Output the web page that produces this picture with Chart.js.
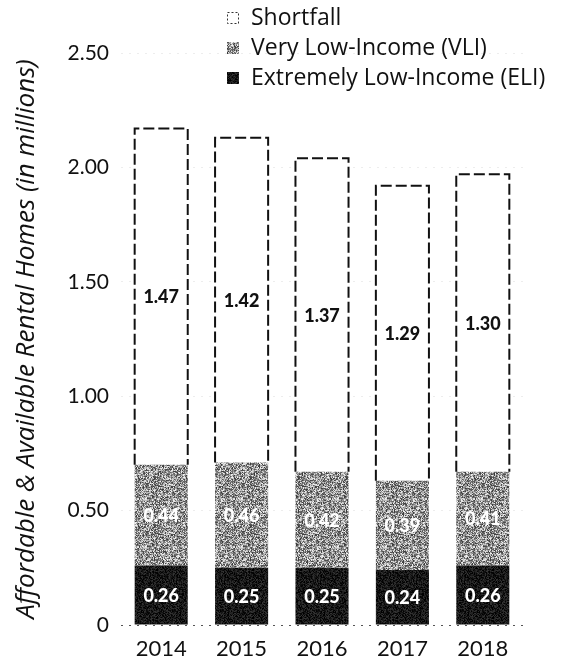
<!DOCTYPE html>
<html>
<head>
<meta charset="utf-8">
<script src="https://cdn.jsdelivr.net/npm/chart.js@4"></script>
<style>
  html, body { margin: 0; padding: 0; background: #fff; }
  #wrap { width: 565px; height: 668px; }
</style>
</head>
<body>
<div id="wrap"><canvas id="myChart" width="565" height="668"></canvas></div>
<script>
// data (millions of homes)
var years = ['2014', '2015', '2016', '2017', '2018'];
var eliValues = [0.26, 0.25, 0.25, 0.24, 0.26];
var vliValues = [0.44, 0.46, 0.42, 0.39, 0.41];
var shortfallValues = [1.47, 1.42, 1.37, 1.29, 1.30];
var yTicks = [0, 0.5, 1, 1.5, 2, 2.5];

var fontName = 'Lato, "Noto Sans", sans-serif';
var wideFont = '"Open Sans", Lato, sans-serif';

// grainy print-like fills
function speckle(base, spread, seed) {
  var c = document.createElement('canvas');
  c.width = 48; c.height = 48;
  var g = c.getContext('2d');
  var img = g.createImageData(48, 48);
  for (var i = 0; i < 48; i++) {
    for (var j = 0; j < 48; j++) {
      var h = Math.sin(i * 12.9898 + j * 78.233 + seed) * 43758.5453;
      h = h - Math.floor(h);
      var v = Math.max(0, Math.min(255, base + (h - 0.5) * spread));
      var k = (j * 48 + i) * 4;
      img.data[k] = img.data[k + 1] = img.data[k + 2] = v;
      img.data[k + 3] = 255;
    }
  }
  g.putImageData(img, 0, 0);
  return document.getElementById('myChart').getContext('2d').createPattern(c, 'repeat');
}
var vliFill = speckle(150, 190, 1.7);
var eliFill = speckle(24, 60, 4.1);

var dashedBars = {
  id: 'dashedBars',
  afterDatasetsDraw: function(chart) {
    var ctx = chart.ctx;
    var meta = chart.getDatasetMeta(2);
    ctx.save();
    ctx.strokeStyle = '#111';
    ctx.lineWidth = 2;
    ctx.setLineDash([11, 4]);
    meta.data.forEach(function(bar) {
      var p = bar.getProps(['x', 'y', 'base', 'width'], true);
      var l = p.x - p.width / 2, r = p.x + p.width / 2;
      ctx.beginPath();
      ctx.moveTo(l, p.base);
      ctx.lineTo(l, p.y);
      ctx.lineTo(r, p.y);
      ctx.lineTo(r, p.base);
      ctx.stroke();
    });
    ctx.restore();
  }
};

var barLabels = {
  id: 'barLabels',
  afterDatasetsDraw: function(chart) {
    var ctx = chart.ctx;
    ctx.save();
    ctx.textAlign = 'center';
    ctx.textBaseline = 'middle';
    ctx.font = '900 18px ' + fontName;
    chart.data.datasets.forEach(function(ds, di) {
      var meta = chart.getDatasetMeta(di);
      meta.data.forEach(function(bar, i) {
        var p = bar.getProps(['x', 'y', 'base'], true);
        ctx.fillStyle = di === 2 ? '#111' : '#fff';
        ctx.fillText(ds.data[i].toFixed(2), p.x, (p.y + p.base) / 2 + 1);
      });
    });
    ctx.restore();
  }
};

var sideLegend = {
  id: 'sideLegend',
  afterDraw: function(chart) {
    var ctx = chart.ctx;
    var items = [2, 1, 0];
    ctx.save();
    ctx.font = '23px ' + wideFont;
    ctx.textBaseline = 'middle';
    ctx.textAlign = 'left';
    items.forEach(function(di, row) {
      var ds = chart.data.datasets[di];
      var cy = 18 + row * 30;
      if (di === 2) {
        ctx.strokeStyle = '#333';
        ctx.lineWidth = 1;
        ctx.setLineDash([2, 2]);
        ctx.strokeRect(227.5, cy - 5.5, 11, 11);
        ctx.setLineDash([]);
      } else {
        ctx.fillStyle = ds.backgroundColor;
        ctx.fillRect(227, cy - 6, 12, 12);
      }
      ctx.fillStyle = '#111';
      ctx.fillText(ds.label, 251, cy);
    });
    ctx.restore();
  }
};

var ctx = document.getElementById('myChart').getContext('2d');
var myChart = new Chart(ctx, {
  type: 'bar',
  data: {
    labels: years,
    datasets: [{
      label: 'Extremely Low-Income (ELI)',
      data: eliValues,
      backgroundColor: eliFill
    }, {
      label: 'Very Low-Income (VLI)',
      data: vliValues,
      backgroundColor: vliFill
    }, {
      label: 'Shortfall',
      data: shortfallValues,
      backgroundColor: '#fff'
    }]
  },
  options: {
    responsive: false,
    animation: false,
    categoryPercentage: 1,
    barPercentage: 0.66,
    layout: {
      padding: { top: 53, right: 42, bottom: 0, left: 0 }
    },
    plugins: {
      legend: { display: false },
      tooltip: { enabled: false }
    },
    scales: {
      x: {
        stacked: true,
        afterFit: function(scale) { scale.height = 43; },
        grid: { display: false, drawTicks: false },
        border: { display: false },
        ticks: {
          color: '#111',
          padding: 11,
          font: { family: fontName, size: 22 }
        }
      },
      y: {
        stacked: true,
        min: 0,
        max: 2.5,
        afterBuildTicks: function(scale) {
          scale.ticks = yTicks.map(function(v) { return { value: v }; });
        },
        afterFit: function(scale) { scale.width = 121; },
        grid: {
          drawTicks: false,
          lineWidth: 1,
          color: function(c) {
            return c.tick && c.tick.value === 0 ? '#555' : 'rgba(0,0,0,0.07)';
          }
        },
        border: { display: false, dash: [2, 6] },
        ticks: {
          color: '#111',
          padding: 12,
          font: { family: fontName, size: 21 },
          callback: function(v) { return v === 0 ? '0' : v.toFixed(2); }
        },
        title: {
          display: true,
          text: 'Affordable & Available Rental Homes (in millions)',
          color: '#111',
          padding: { top: 11, bottom: 0 },
          font: { family: wideFont, size: 26, style: 'italic' }
        }
      }
    }
  },
  plugins: [dashedBars, barLabels, sideLegend]
});
</script>
</body>
</html>
